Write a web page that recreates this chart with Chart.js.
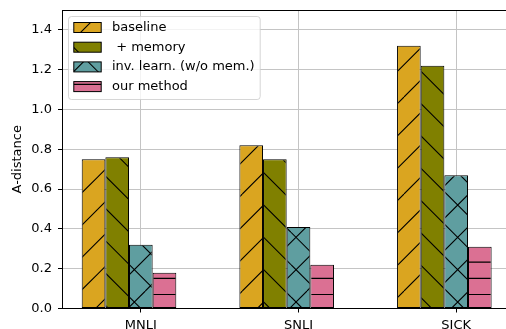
<!DOCTYPE html>
<html>
<head>
<meta charset="utf-8">
<script src="https://cdn.jsdelivr.net/npm/chart.js@4.4.1/dist/chart.umd.min.js"></script>
<style>
  html, body { margin: 0; padding: 0; background: #fff; overflow: hidden; }
  canvas { display: block; }
</style>
</head>
<body>
<canvas id="grafico" width="540" height="329"></canvas>
<script>
// dados
const categorias = ['MNLI', 'SNLI', 'SICK'];
const baseline = [0.75, 0.82, 1.32];
const comMemoria = [0.76, 0.75, 1.22];
const invLearn = [0.32, 0.41, 0.67];
const nossoMetodo = [0.18, 0.22, 0.31];
const yTicks = [0.0, 0.2, 0.4, 0.6, 0.8, 1.0, 1.2, 1.4];

const FONTE = '"DejaVu Sans", sans-serif';
Chart.defaults.font.family = FONTE;
Chart.defaults.font.size = 13;
Chart.defaults.color = '#000';

// hachuras estilo matplotlib (ancoradas na origem do canvas)
function criarHachura(cor, tipo) {
    const tam = 97;
    const passo = tam / 3;
    const c = document.createElement('canvas');
    c.width = tam;
    c.height = tam;
    const g = c.getContext('2d');
    g.fillStyle = cor;
    g.fillRect(0, 0, tam, tam);
    g.strokeStyle = '#000';
    g.lineWidth = 1.1;
    g.beginPath();
    if (tipo === '/' || tipo === 'x') {
        for (let k = -2; k <= 8; k++) {
            const s = 16 + k * passo; // x + y = s
            g.moveTo(s, 0);
            g.lineTo(s - tam, tam);
        }
    }
    if (tipo === '\\' || tipo === 'x') {
        for (let k = -5; k <= 4; k++) {
            const d = 6 + k * passo; // y - x = d
            g.moveTo(0, d);
            g.lineTo(tam, tam + d);
        }
    }
    if (tipo === '-') {
        for (let k = 0; k < 6; k++) {
            const y = 3.5 + k * tam / 6;
            g.moveTo(0, y);
            g.lineTo(tam, y);
        }
    }
    g.stroke();
    return g.createPattern(c, 'repeat');
}

function retanguloArredondado(ctx, x, y, w, h, r) {
    ctx.beginPath();
    ctx.moveTo(x + r, y);
    ctx.lineTo(x + w - r, y);
    ctx.arcTo(x + w, y, x + w, y + r, r);
    ctx.lineTo(x + w, y + h - r);
    ctx.arcTo(x + w, y + h, x + w - r, y + h, r);
    ctx.lineTo(x + r, y + h);
    ctx.arcTo(x, y + h, x, y + h - r, r);
    ctx.lineTo(x, y + r);
    ctx.arcTo(x, y, x + r, y, r);
    ctx.closePath();
}

// moldura superior + legenda dentro da área do gráfico
const pluginMoldura = {
    id: 'moldura',
    afterDraw(chart) {
        const ctx = chart.ctx;
        const area = chart.chartArea;
        ctx.save();
        ctx.strokeStyle = '#000';
        ctx.lineWidth = 1;
        ctx.beginPath();
        ctx.moveTo(area.left, Math.round(area.top) + 0.5);
        ctx.lineTo(area.right, Math.round(area.top) + 0.5);
        ctx.stroke();

        const itens = chart.data.datasets.filter(d => d.label);
        ctx.font = '13px ' + FONTE;
        const larguraTexto = Math.max(...itens.map(d => ctx.measureText(d.label).width));
        const x0 = area.left + 6.5;
        const y0 = area.top + 6.5;
        const largura = 43.5 + larguraTexto + 5.5;
        const altura = 83;

        retanguloArredondado(ctx, x0, y0, largura, altura, 3);
        ctx.fillStyle = 'rgba(255,255,255,0.8)';
        ctx.fill();
        ctx.strokeStyle = 'rgba(204,204,204,0.8)';
        ctx.stroke();

        itens.forEach((d, i) => {
            const cy = y0 + 11 + i * 19.7;
            ctx.fillStyle = d.backgroundColor;
            ctx.fillRect(x0 + 5.3, cy - 5, 27.4, 10);
            ctx.strokeStyle = '#000';
            ctx.strokeRect(x0 + 5.3, cy - 5, 27.4, 10);
            ctx.fillStyle = '#000';
            ctx.textBaseline = 'middle';
            ctx.textAlign = 'left';
            ctx.fillText(d.label, x0 + 43.5, cy);
        });
        ctx.restore();
    }
};

const series = [
    { label: 'baseline', data: baseline, cor: '#DAA520', hachura: '/' },
    { label: ' + memory', data: comMemoria, cor: '#808000', hachura: '\\' },
    { label: 'inv. learn. (w/o mem.)', data: invLearn, cor: '#5F9EA0', hachura: 'x' },
    { label: 'our method', data: nossoMetodo, cor: '#DB7093', hachura: '-' }
];

const datasets = series.map(s => ({
    label: s.label,
    data: s.data,
    backgroundColor: criarHachura(s.cor, s.hachura),
    borderColor: '#000',
    borderWidth: 1,
    borderSkipped: false
}));
// série vazia: mantém o grupo deslocado como no original (5 posições)
datasets.push({ label: '', data: categorias.map(() => null), backgroundColor: 'rgba(0,0,0,0)' });

new Chart(document.getElementById('grafico'), {
    type: 'bar',
    data: { labels: categorias, datasets: datasets },
    options: {
        responsive: false,
        animation: false,
        devicePixelRatio: 1,
        layout: { padding: { top: 10, right: 5, left: 0, bottom: 0 } },
        datasets: { bar: { categoryPercentage: 0.75, barPercentage: 1.0 } },
        plugins: { legend: { display: false }, tooltip: { enabled: false } },
        scales: {
            x: {
                offset: true,
                grid: { offset: false, color: '#c4c4c4', lineWidth: 1, tickColor: '#000', tickLength: 4 },
                border: { color: '#000', width: 1 },
                ticks: { padding: 5, color: '#000', font: { size: 13 } },
                afterFit(scale) {
                    scale.height = 20.5;
                    scale.paddingLeft = 0;
                    scale.paddingRight = 0;
                }
            },
            y: {
                min: 0,
                max: 1.5,
                grid: { color: '#c4c4c4', lineWidth: 1, tickColor: '#000', tickLength: 4 },
                border: { color: '#000', width: 1 },
                ticks: {
                    padding: 6,
                    color: '#000',
                    font: { size: 13 },
                    callback: v => Number(v).toFixed(1)
                },
                afterBuildTicks(scale) { scale.ticks = yTicks.map(v => ({ value: v })); },
                title: { display: true, text: 'A-distance', color: '#000', font: { size: 13 }, padding: { top: 10, bottom: 0 } },
                afterFit(scale) {
                    scale.width = 62;
                    scale.paddingTop = 0;
                    scale.paddingBottom = 0;
                }
            }
        }
    },
    plugins: [pluginMoldura]
});
console.log('gráfico pronto');
</script>
</body>
</html>
